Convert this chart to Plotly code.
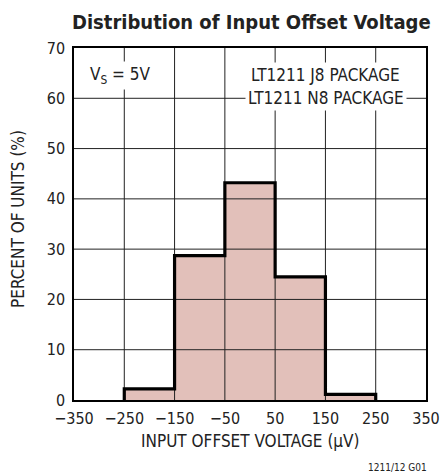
import plotly.graph_objects as go

# ---- data ----
bin_edges = [-250, -150, -50, 50, 150, 250]
percent_units = [2.2, 28.7, 43.2, 24.5, 1.1]

x_tick_vals = [-350, -250, -150, -50, 50, 150, 250, 350]
x_tick_text = ["\u2212350", "\u2212250", "\u2212150", "\u221250", "50", "150", "250", "350"]
y_tick_vals = [0, 10, 20, 30, 40, 50, 60, 70]
y_tick_text = ["0", "10", "20", "30", "40", "50", "60", "70"]

title_text = "Distribution of Input Offset Voltage"
x_title = "INPUT OFFSET VOLTAGE (\u00b5V)"
y_title = "PERCENT OF UNITS (%)"
legend_lines = ["LT1211 J8 PACKAGE", "LT1211 N8 PACKAGE"]
cond_text = "V<sub>S</sub> = 5V"
footnote = "1211/12 G01"

FONT = "DejaVu Sans Condensed, Liberation Sans Narrow, sans-serif"
XMIN, XMAX = x_tick_vals[0], x_tick_vals[-1]
YMIN, YMAX = y_tick_vals[0], y_tick_vals[-1]

W, H = 440, 474
ML, MR, MT, MB = 74, 14, 48, 74
PW, PH = W - ML - MR, H - MT - MB

centers = [(bin_edges[i] + bin_edges[i + 1]) / 2 for i in range(len(percent_units))]
widths = [bin_edges[i + 1] - bin_edges[i] for i in range(len(percent_units))]

fig = go.Figure()

# fill
fig.add_trace(go.Bar(x=centers, y=percent_units, width=widths,
                     marker=dict(color="#e2c0ba", line=dict(width=0)),
                     hoverinfo="skip", showlegend=False))

# grid (drawn above fill)
gx, gy = [], []
for v in x_tick_vals[1:-1]:
    gx += [v, v, None]
    gy += [YMIN, YMAX, None]
for v in y_tick_vals[1:-1]:
    gx += [XMIN, XMAX, None]
    gy += [v, v, None]
fig.add_trace(go.Scatter(x=gx, y=gy, mode="lines", line=dict(color="#222222", width=1),
                         hoverinfo="skip", showlegend=False))

# outline
ox = [bin_edges[0]] + bin_edges[:-1] + [bin_edges[-1]]
oy = [0] + percent_units + [0]
fig.add_trace(go.Scatter(x=ox, y=oy, mode="lines", line=dict(color="black", width=3.2, shape="hv"),
                         hoverinfo="skip", showlegend=False))

axis_common = dict(showgrid=False, zeroline=False, showline=True, mirror=True,
                   linecolor="black", linewidth=1.5, ticks="", automargin=False,
                   tickfont=dict(family=FONT, size=16, color="#222"))

fig.update_layout(
    width=W, height=H,
    margin=dict(l=ML, r=MR, t=MT, b=MB, autoexpand=False),
    paper_bgcolor="white", plot_bgcolor="white",
    bargap=0,
    xaxis=dict(range=[XMIN, XMAX], tickvals=x_tick_vals, ticktext=x_tick_text,
               ticklabelstandoff=3, **axis_common),
    yaxis=dict(range=[YMIN, YMAX], tickvals=y_tick_vals, ticktext=y_tick_text,
               ticklabelstandoff=4, **axis_common),
)

def px_x(p):
    return (p - ML) / PW

def px_y(p):
    return (H - MB - p) / PH

# title
fig.add_annotation(x=px_x(251), y=px_y(22), xref="paper", yref="paper", text="<b>" + title_text + "</b>",
                   showarrow=False, xanchor="center", yanchor="middle",
                   font=dict(family=FONT, size=20, color="#222"))
# axis titles
fig.add_annotation(x=px_x(250), y=px_y(441), xref="paper", yref="paper", text=x_title,
                   showarrow=False, xanchor="center", yanchor="middle",
                   font=dict(family=FONT, size=17, color="#222"))
fig.add_annotation(x=px_x(18), y=px_y(219), xref="paper", yref="paper", text=y_title, textangle=-90,
                   showarrow=False, xanchor="center", yanchor="middle",
                   font=dict(family=FONT, size=17, color="#222"))

fig.add_annotation(x=-258, y=64.6, xref="x", yref="y", text=cond_text, showarrow=False,
                   font=dict(family=FONT, size=17, color="#222"), bgcolor="white", borderpad=2)
fig.add_annotation(x=151, y=64.6, xref="x", yref="y", text=legend_lines[0], showarrow=False,
                   font=dict(family=FONT, size=17, color="#222"), bgcolor="white", borderpad=2)
fig.add_annotation(x=151, y=60, xref="x", yref="y", text=legend_lines[1], showarrow=False,
                   font=dict(family=FONT, size=17, color="#222"), bgcolor="white", borderpad=2)
fig.add_annotation(x=px_x(397), y=px_y(467), xref="paper", yref="paper", text=footnote, showarrow=False,
                   xanchor="center", yanchor="middle",
                   font=dict(family=FONT, size=10, color="#222"))

fig.write_html("out.html", config={"displayModeBar": False},
               post_script="document.body.style.margin='0';document.body.style.padding='0';")
